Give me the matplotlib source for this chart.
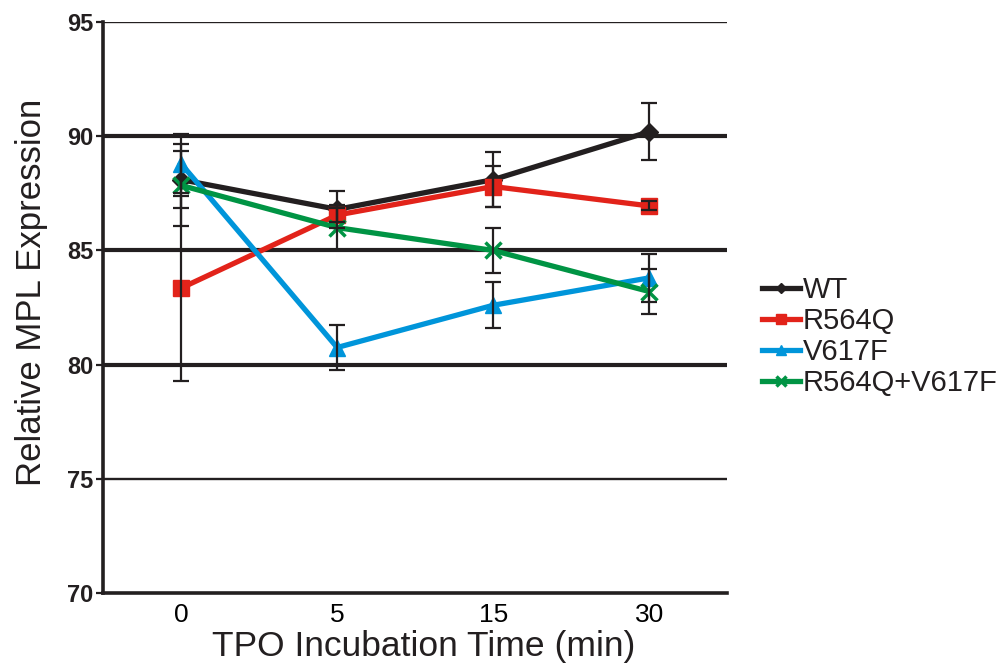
import matplotlib
matplotlib.use("Agg")
import matplotlib.pyplot as plt

plt.rcParams["font.family"] = ["Liberation Sans", "DejaVu Sans"]

# data
times = ["0", "5", "15", "30"]
series_names = ["WT", "R564Q", "V617F", "R564Q+V617F"]
wt = [88.1, 86.8, 88.1, 90.2]
wt_err = [1.25, 0.8, 1.2, 1.25]
r564q = [83.35, 86.55, 87.8, 86.95]
r564q_err = [4.05, 0.3, 0.9, 0.2]
v617f = [88.8, 80.75, 82.6, 83.8]
v617f_err = [1.3, 1.0, 1.0, 1.05]
double = [87.85, 86.0, 85.0, 83.2]
double_err = [1.8, 1.0, 1.0, 1.0]
yticks = [70, 75, 80, 85, 90, 95]

STYLES = [
    {"color": "#231f20", "marker": "D", "ms": 9},
    {"color": "#e2231a", "marker": "s", "ms": 11},
    {"color": "#0095da", "marker": "^", "ms": 12},
    {"color": "#009444", "marker": "x", "ms": 11, "mew": 2.5},
]


def main() -> None:
    fig = plt.figure(figsize=(10.07, 6.69), dpi=100, facecolor="white")
    ax = fig.add_axes([0.1023, 0.1136, 0.62, 0.8534])

    x = list(range(len(times)))

    for v in yticks[1:]:
        lw = 3.0 if v in (80, 85, 90) else 1.7
        ax.axhline(v, color="#231f20", lw=lw, zorder=1)

    values = [wt, r564q, v617f, double]
    errors = [wt_err, r564q_err, v617f_err, double_err]
    handles = []
    for name, vals, st in zip(series_names, values, STYLES):
        (h,) = ax.plot(
            x, vals, color=st["color"], lw=3.8, marker=st["marker"],
            ms=st["ms"], mew=st.get("mew", 1), label=name, zorder=3,
        )
        handles.append(h)
    for vals, errs in zip(values, errors):
        ax.errorbar(
            x, vals, yerr=errs, fmt="none", ecolor="#231f20",
            elinewidth=1.6, capsize=6, capthick=1.6, zorder=4,
        )

    ax.set_xlim(-0.5, 3.5)
    ax.set_ylim(70, 95)
    ax.set_xticks(x)
    ax.set_xticklabels(times, fontsize=19)
    ax.tick_params(axis="x", length=0, pad=7)
    ax.set_yticks(yticks)
    ax.set_yticklabels([str(v) for v in yticks], fontsize=17, fontweight="bold",
                       color="#231f20")
    ax.tick_params(axis="y", length=5, width=1.6, pad=2, color="#231f20")

    for side in ("top", "right"):
        ax.spines[side].set_visible(False)
    for side in ("left", "bottom"):
        ax.spines[side].set_linewidth(2.6)
        ax.spines[side].set_color("#231f20")

    ax.set_xlabel("TPO Incubation Time (min)", fontsize=25.5, labelpad=0,
                  color="#231f20")
    ax.xaxis.set_label_coords(0.513, -0.065)
    ax.set_ylabel("Relative MPL Expression", fontsize=25, color="#231f20")
    ax.yaxis.set_label_coords(-0.088, 0.527)

    leg = fig.legend(
        handles=handles, labels=series_names, loc="center left",
        bbox_to_anchor=(0.745, 0.497), frameon=False, fontsize=21,
        handlelength=1.3, handletextpad=0.1, labelspacing=0.1,
        markerscale=0.6, borderaxespad=0,
    )
    for t in leg.get_texts():
        t.set_color("#231f20")

    fig.savefig("out.png", dpi=100)
    plt.close(fig)


if __name__ == "__main__":
    main()
